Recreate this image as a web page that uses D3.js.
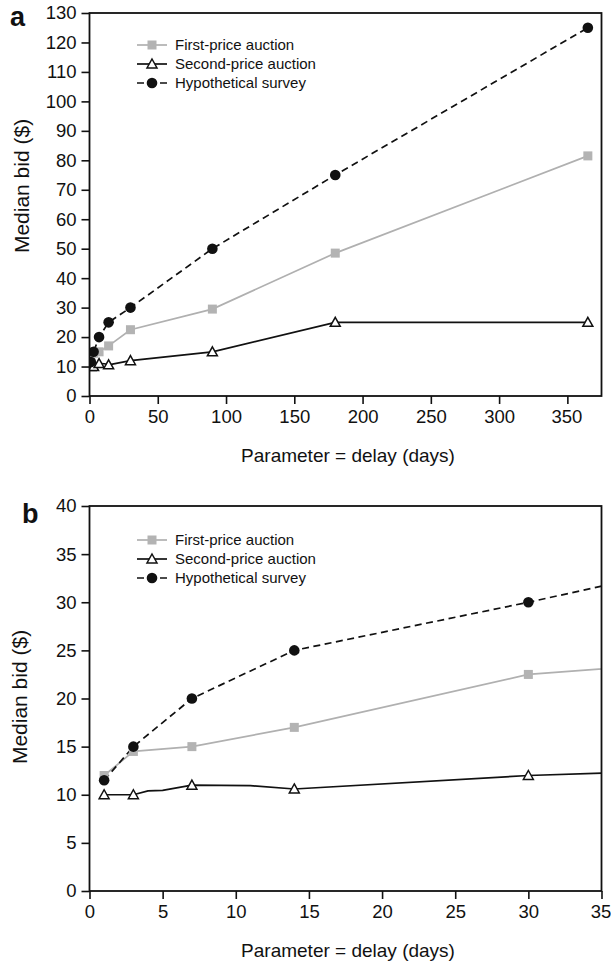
<html>
<head>
<meta charset="utf-8">
<style>
  body { margin: 0; background: #fff; }
  svg text { font-family: "Liberation Sans", Arial, Helvetica, sans-serif; fill: #111; }
</style>
</head>
<body>
<svg id="chart"></svg>
<script src="https://cdn.jsdelivr.net/npm/d3@7"></script>
<script>

// delay in days and median bids ($)
const days = [1, 3, 7, 14, 30, 90, 180, 365];
const firstPrice = [12, 14.5, 15, 17, 22.5, 29.5, 48.5, 81.5];
const secondPrice = [10, 10, 11, 10.6, 12, 15, 25, 25];
const hypothetical = [11.5, 15, 20, 25, 30, 50, 75, 125];

// unmarked bends in the second-price line (visible in panel b)
const secondBendDays = [4, 5, 11];
const secondBendValues = [10.4, 10.45, 10.95];

const seriesNames = ["First-price auction", "Second-price auction", "Hypothetical survey"];

const xTicksA = d3.range(0, 351, 50);
const yTicksA = d3.range(0, 131, 10);
const xTicksB = d3.range(0, 36, 5);
const yTicksB = d3.range(0, 41, 5);

let width = 611, height = 963;
let svg = d3.select("#chart").attr("width", width).attr("height", height);

function pts(xs, ys) {
    return xs.map((d, i) => ({ x: d, y: ys[i] }));
}

let series = [
    { name: seriesNames[0], marks: pts(days, firstPrice), line: pts(days, firstPrice),
      color: "#b0b0b0", dash: null, shape: "square" },
    { name: seriesNames[1], marks: pts(days, secondPrice),
      line: pts(days, secondPrice).concat(pts(secondBendDays, secondBendValues)).sort((a, b) => a.x - b.x),
      color: "#111", dash: null, shape: "triangle" },
    { name: seriesNames[2], marks: pts(days, hypothetical), line: pts(days, hypothetical),
      color: "#111", dash: "7,4.5", shape: "circle" }
];

function marker(g, shape, x, y) {
    if (shape == "square") {
        g.append("rect").attr("x", x - 4.5).attr("y", y - 4.5).attr("width", 9).attr("height", 9)
            .attr("fill", "#b3b3b3");
    } else if (shape == "triangle") {
        g.append("path").attr("d", `M${x},${y - 5}L${x + 5},${y + 4}L${x - 5},${y + 4}Z`)
            .attr("fill", "#fff").attr("stroke", "#111").attr("stroke-width", 1.5);
    } else {
        g.append("circle").attr("cx", x).attr("cy", y).attr("r", 5.3).attr("fill", "#111");
    }
}

function drawPanel(p) {
    let x = d3.scaleLinear().domain(p.xDomain).range([p.left, p.right]);
    let y = d3.scaleLinear().domain(p.yDomain).range([p.bottom, p.top]);
    let g = svg.append("g");

    let clipId = "clip-" + p.letter;
    g.append("clipPath").attr("id", clipId)
        .append("rect").attr("x", p.left).attr("y", p.top - 10)
        .attr("width", p.right - p.left).attr("height", p.bottom - p.top + 20);

    let line = d3.line().x(d => x(d.x)).y(d => y(d.y));
    let plot = g.append("g").attr("clip-path", `url(#${clipId})`);

    series.forEach(s => {
        plot.append("path")
            .attr("d", line(s.line))
            .attr("fill", "none")
            .attr("stroke", s.color)
            .attr("stroke-width", 1.7)
            .attr("stroke-dasharray", s.dash);
    });
    series.forEach(s => {
        s.marks.filter(d => d.x <= p.xDomain[1]).forEach(d => marker(plot, s.shape, x(d.x), y(d.y)));
    });

    // box
    g.append("rect")
        .attr("x", p.left).attr("y", p.top)
        .attr("width", p.right - p.left).attr("height", p.bottom - p.top)
        .attr("fill", "none").attr("stroke", "#111").attr("stroke-width", 1.8);

    let xAxis = g.append("g").attr("transform", `translate(0,${p.bottom})`)
        .call(d3.axisBottom(x).tickValues(p.xTicks).tickSize(8).tickPadding(6));
    let yAxis = g.append("g").attr("transform", `translate(${p.left},0)`)
        .call(d3.axisLeft(y).tickValues(p.yTicks).tickSize(8).tickPadding(5));
    [xAxis, yAxis].forEach(a => {
        a.select(".domain").remove();
        a.selectAll("line").attr("stroke", "#111").attr("stroke-width", 1.6);
        a.selectAll("text").attr("font-size", 18.5).attr("fill", "#111")
            .attr("font-family", '"Liberation Sans", Arial, sans-serif');
    });
    // keep the last x label inside the page
    xAxis.selectAll(".tick:last-of-type text").attr("dx", -1);

    // legend
    series.forEach((s, i) => {
        let ly = p.legendY + i * 19;
        g.append("line").attr("x1", p.legendX).attr("x2", p.legendX + 30)
            .attr("y1", ly).attr("y2", ly)
            .attr("stroke", s.color).attr("stroke-width", 1.7)
            .attr("stroke-dasharray", s.dash);
        marker(g, s.shape, p.legendX + 15, ly);
        g.append("text").attr("x", p.legendX + 38).attr("y", ly)
            .attr("dy", "0.35em").attr("font-size", 15).text(s.name);
    });

    g.append("text").attr("x", p.letterX).attr("y", p.letterY)
        .attr("font-size", 27).attr("font-weight", "bold").text(p.letter);

    g.append("text")
        .attr("transform", `translate(${p.yLabelX},${p.yLabelY}) rotate(-90)`)
        .attr("text-anchor", "middle").attr("dy", "0.35em")
        .attr("font-size", 21).text("Median bid ($)");

    g.append("text").attr("x", 348).attr("y", p.xLabelY)
        .attr("text-anchor", "middle").attr("dy", "0.35em")
        .attr("font-size", 19).text("Parameter = delay (days)");
}

drawPanel({
    letter: "a", left: 89.5, right: 601.5, top: 13, bottom: 396,
    xDomain: [0, 375], yDomain: [0, 130], xTicks: xTicksA, yTicks: yTicksA,
    legendX: 137, legendY: 45, letterX: 10, letterY: 26,
    yLabelX: 22, yLabelY: 186, xLabelY: 455
});

drawPanel({
    letter: "b", left: 89.5, right: 601.5, top: 506, bottom: 891,
    xDomain: [0, 35], yDomain: [0, 40], xTicks: xTicksB, yTicks: yTicksB,
    legendX: 137, legendY: 540, letterX: 22, letterY: 523,
    yLabelX: 20, yLabelY: 697, xLabelY: 950
});

</script>
</body>
</html>
